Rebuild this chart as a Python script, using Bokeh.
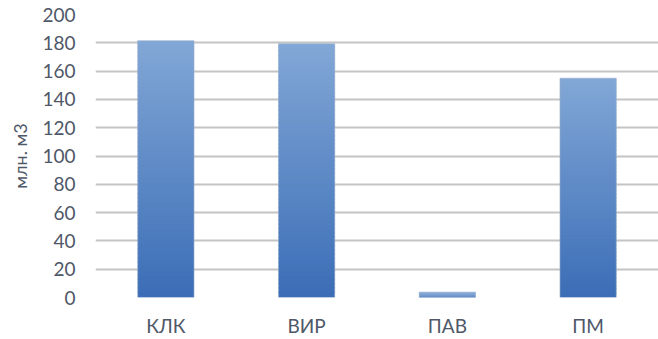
from bokeh.plotting import figure
from bokeh.models import FactorRange, Range1d, ColumnDataSource, FixedTicker
from bokeh.embed import file_html
from bokeh.resources import INLINE

categories = ["КЛК", "ВИР", "ПАВ", "ПМ"]
values = [181.5, 179.3, 3.8, 155.0]
y_ticks = [0, 20, 40, 60, 80, 100, 120, 140, 160, 180, 200]
y_label = "млн. м3"

top_rgb = (0x82, 0xa7, 0xd6)
bot_rgb = (0x3b, 0x6d, 0xb6)
N = 60

p = figure(width=658, height=339, x_range=FactorRange(*categories, range_padding=0),
           y_range=Range1d(0, 200), output_backend="svg", toolbar_location=None,
           min_border_left=95, min_border_right=0, min_border_top=14, min_border_bottom=0)
p.outline_line_color = None
p.background_fill_color = "white"
p.border_fill_color = "white"

xs, bots, tops, cols = [], [], [], []
for c, v in zip(categories, values):
    for i in range(N):
        f = (i + 0.5) / N  # 0 bottom -> 1 top
        rgb = tuple(int(round(b + (t - b) * f)) for t, b in zip(top_rgb, bot_rgb))
        xs.append(c)
        bots.append(v * i / N)
        tops.append(v * (i + 1) / N + (v / N * 0.6 if i < N - 1 else 0))
        cols.append("#%02x%02x%02x" % rgb)

src = ColumnDataSource(dict(x=xs, bottom=bots, top=tops, color=cols))
p.vbar(x="x", bottom="bottom", top="top", width=0.4, source=src,
       fill_color="color", line_color=None)
p.vbar(x=categories, top=values, width=0.4, fill_color=None,
       line_color="#9fb3cf", line_width=1, line_alpha=0.6)

p.yaxis.ticker = FixedTicker(ticks=y_ticks)
p.ygrid.ticker = FixedTicker(ticks=y_ticks)
p.ygrid.grid_line_color = "#c4c4c4"
p.ygrid.grid_line_width = 2
p.xgrid.grid_line_color = None

for ax in (p.xaxis, p.yaxis):
    ax.axis_line_color = None
    ax.major_tick_line_color = None
    ax.minor_tick_line_color = None
    ax.major_label_text_font = "Lato"
    ax.major_label_text_font_size = "19px"
    ax.major_label_text_color = "#4f5868"

p.yaxis.major_label_standoff = 14
p.xaxis.major_label_standoff = 10
p.yaxis.axis_label = y_label
p.yaxis.axis_label_text_font = "Lato"
p.yaxis.axis_label_text_font_size = "18px"
p.yaxis.axis_label_text_font_style = "normal"
p.yaxis.axis_label_text_color = "#4f5868"
p.yaxis.axis_label_standoff = 8

open("out.html", "w").write(file_html(p, INLINE))
